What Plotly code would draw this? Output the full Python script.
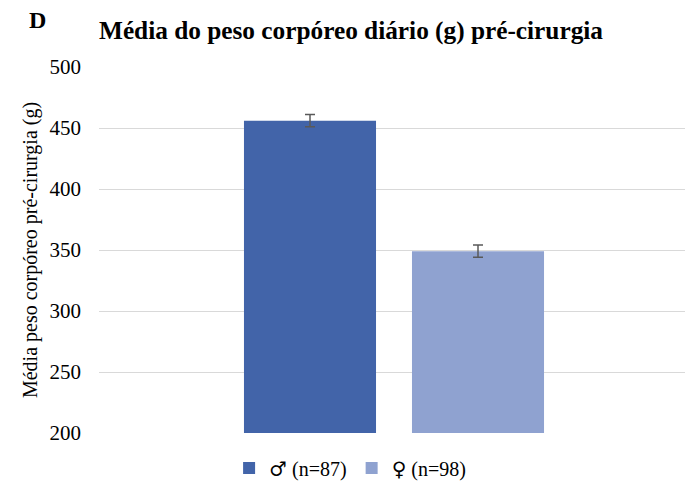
import plotly.graph_objects as go

# Mean daily body weight before surgery, by sex
group_label = ["Pré-cirurgia"]
series_names = ['<span style="font-family:DejaVu Serif">♂</span> (n=87)',
                '<span style="font-family:DejaVu Serif">♀</span> (n=98)']
male_mean = [456]
female_mean = [349]
male_err = [5]
female_err = [5]
y_ticks = [200, 250, 300, 350, 400, 450, 500]

male_color = "#4264A9"
female_color = "#8FA2D0"
err_color = "#595959"
serif = "Liberation Serif"

W, H = 685, 488
m_left, m_right, m_top, m_bottom = 99, 0, 67, 55
plot_w = W - m_left - m_right
plot_h = H - m_top - m_bottom
x_shift = 2 / plot_w  # nudge the bar group slightly right of centre

fig = go.Figure()
for name, vals, errs, color in [
    (series_names[0], male_mean, male_err, male_color),
    (series_names[1], female_mean, female_err, female_color),
]:
    fig.add_trace(go.Bar(
        x=group_label, y=vals, name=name,
        marker=dict(color=color, line=dict(width=0)),
        error_y=dict(type="data", array=errs, visible=True,
                     color=err_color, thickness=1.5, width=5),
    ))

fig.update_layout(
    width=W, height=H,
    margin=dict(l=m_left, r=m_right, t=m_top, b=m_bottom, pad=0),
    paper_bgcolor="white", plot_bgcolor="white",
    barmode="group", bargap=0.4266, bargroupgap=0.214,
    font=dict(family=serif, color="black", size=20),
    title=dict(text="<b>Média do peso corpóreo diário (g) pré-cirurgia</b>",
               x=0, xanchor="left", xref="paper",
               y=1 - 30 / H, yanchor="middle", yref="container",
               font=dict(family=serif, size=25.3, color="black")),
    showlegend=True,
    legend=dict(orientation="h", x=0.222, xanchor="left",
                y=-(468 - (H - m_bottom)) / plot_h, yanchor="middle",
                font=dict(family=serif, size=20), bgcolor="rgba(0,0,0,0)"),
    xaxis=dict(showticklabels=False, showgrid=False, showline=False, zeroline=False,
               range=[-0.5 - x_shift, 0.5 - x_shift]),
    yaxis=dict(range=[200, 500], tickvals=y_ticks, showgrid=True,
               gridcolor="#D9D9D9", gridwidth=1, zeroline=False, showline=False,
               ticks="", ticklabelstandoff=17,
               tickfont=dict(family=serif, size=21),
               title=dict(text="Média peso corpóreo pré-cirurgia (g)",
                          font=dict(family=serif, size=20), standoff=6)),
)

fig.add_annotation(text="<b>D</b>", xref="paper", yref="paper",
                   x=(27 - m_left) / plot_w, xanchor="left",
                   y=1 + (m_top - 20) / plot_h, yanchor="middle",
                   showarrow=False, font=dict(family=serif, size=24, color="black"))

fig.write_html("out.html")
